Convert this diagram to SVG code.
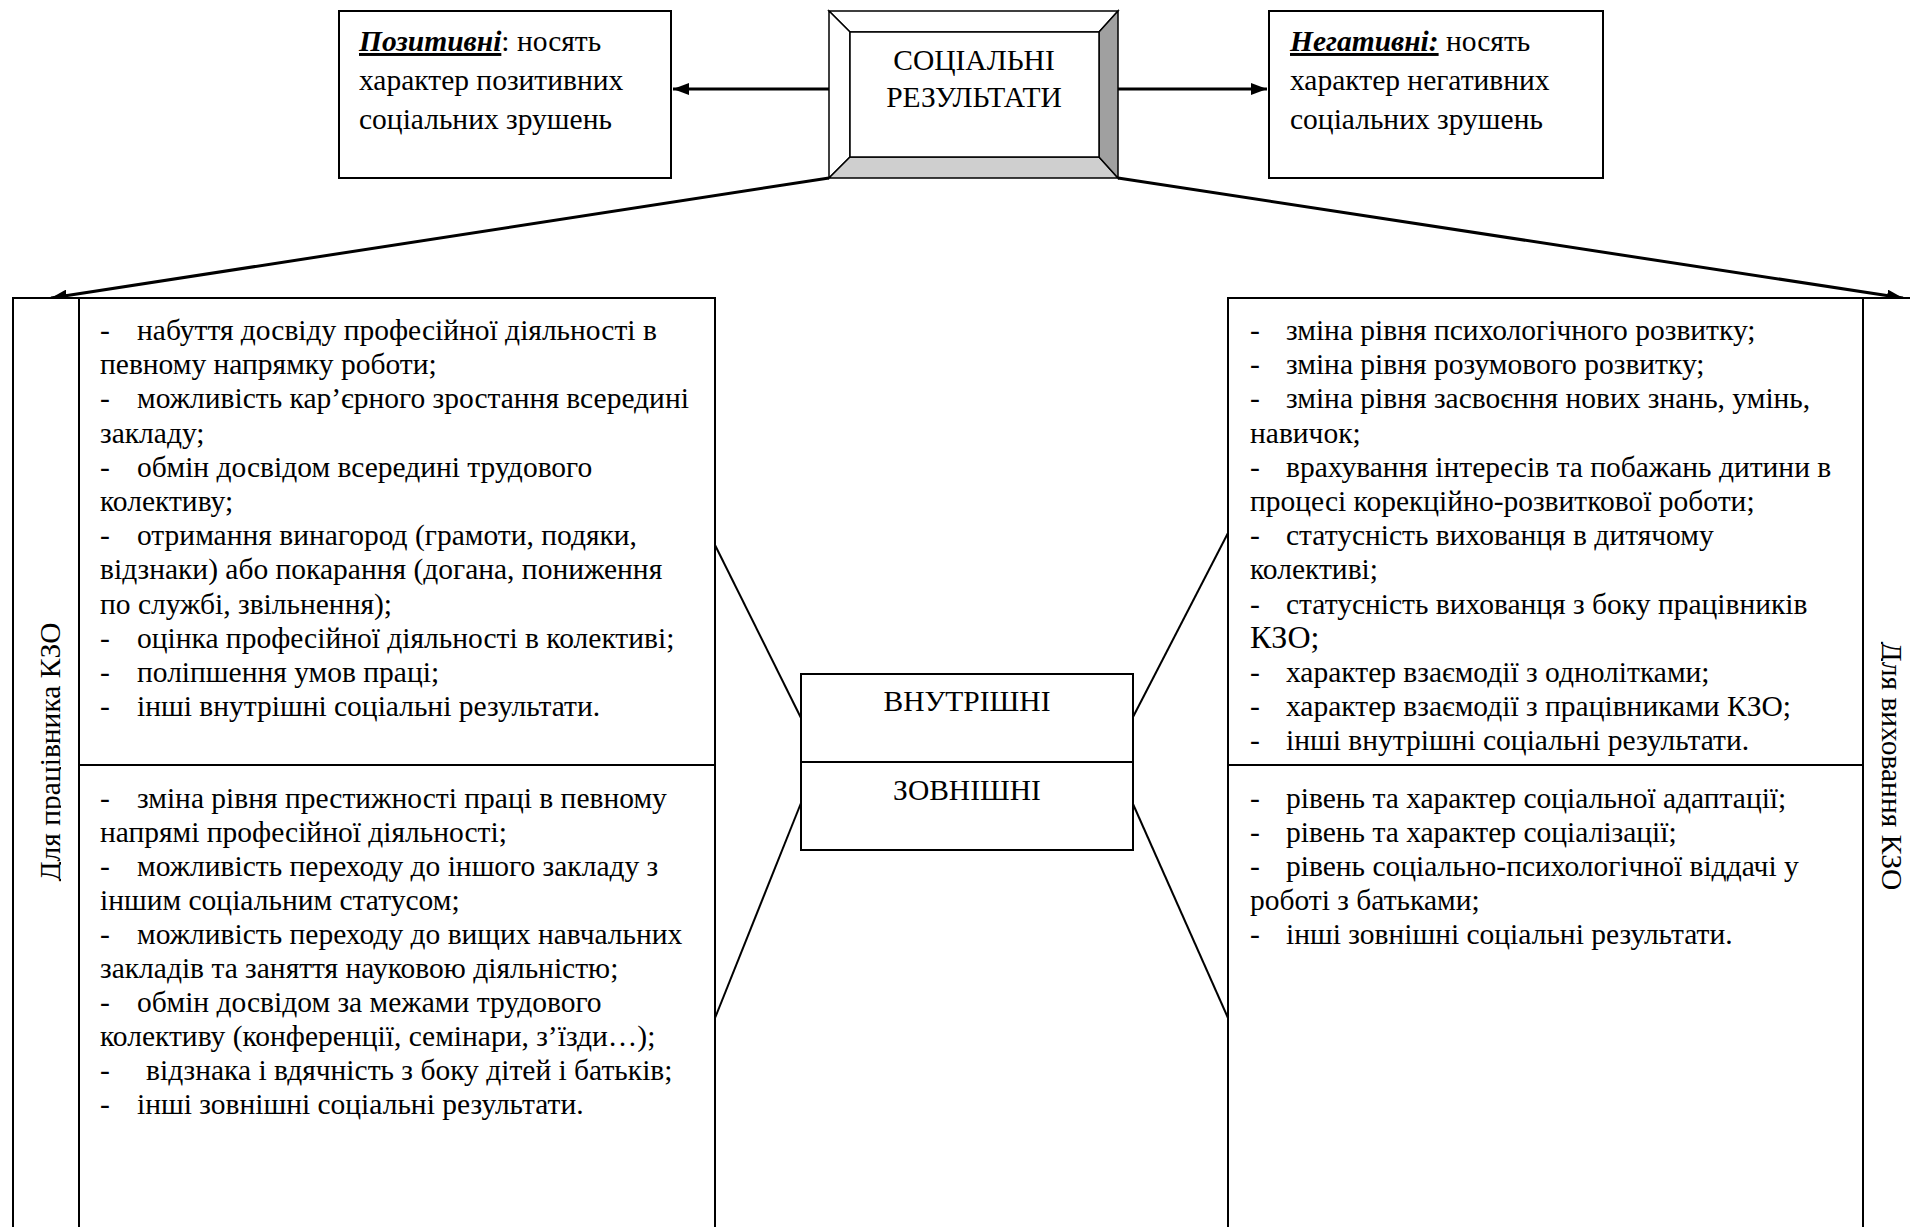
<svg xmlns="http://www.w3.org/2000/svg" width="1910" height="1227" viewBox="0 0 1910 1227">
<defs>
<style>
text{font-family:"Liberation Serif","Times New Roman",serif;font-size:29.5px;fill:#000}
.box{fill:#fff;stroke:#000;stroke-width:2}
.ln{fill:none;stroke:#000;stroke-width:2}
.arr{fill:none;stroke:#000;stroke-width:3}
.bev{stroke:#000;stroke-width:1.5;stroke-linejoin:miter}
.c{text-anchor:middle}
.hd{font-weight:bold;font-style:italic;text-decoration:underline}
</style>
<marker id="ah" viewBox="0 0 16 12" refX="16" refY="6" markerWidth="16" markerHeight="12" markerUnits="userSpaceOnUse" orient="auto">
<path d="M0,0 L16,6 L0,12 z" fill="#000"/>
</marker>
<clipPath id="clipL"><rect x="0" y="280" width="61" height="947"/></clipPath>
<clipPath id="clipR"><rect x="1881" y="280" width="40" height="947"/></clipPath>
</defs>
<rect width="1910" height="1227" fill="#fff"/>

<g id="connectors">
<line class="arr" x1="829" y1="89" x2="673" y2="89" marker-end="url(#ah)"/>
<line class="arr" x1="1118" y1="89" x2="1267" y2="89" marker-end="url(#ah)"/>
<line class="arr" x1="829" y1="178" x2="51" y2="298" marker-end="url(#ah)"/>
<line class="arr" x1="1118" y1="178" x2="1903" y2="298" marker-end="url(#ah)"/>
<line class="ln" x1="715" y1="545" x2="801" y2="718"/>
<line class="ln" x1="715" y1="1018" x2="801" y2="803"/>
<line class="ln" x1="1228" y1="533" x2="1133" y2="717"/>
<line class="ln" x1="1228" y1="1018" x2="1133" y2="804"/>
</g>

<g id="positive">
<rect class="box" x="339" y="11" width="332" height="167"/>
<text x="359" y="51"><tspan class="hd">Позитивні</tspan>: носять</text>
<text x="359" y="90">характер позитивних</text>
<text x="359" y="129">соціальних зрушень</text>
</g>

<g id="social-results">
<polygon class="bev" fill="#fff" points="829,11 1118,11 1099,32 850,32"/>
<polygon class="bev" fill="#fff" points="829,11 850,32 850,157 829,178"/>
<polygon class="bev" fill="#cfcfcf" points="829,178 850,157 1099,157 1118,178"/>
<polygon class="bev" fill="#a0a0a0" points="1118,11 1099,32 1099,157 1118,178"/>
<rect class="bev" fill="#fff" x="850" y="32" width="249" height="125"/>
<text class="c" x="974" y="70">СОЦІАЛЬНІ</text>
<text class="c" x="974" y="107">РЕЗУЛЬТАТИ</text>
</g>

<g id="negative">
<rect class="box" x="1269" y="11" width="334" height="167"/>
<text x="1290" y="51"><tspan class="hd">Негативні:</tspan> носять</text>
<text x="1290" y="90">характер негативних</text>
<text x="1290" y="129">соціальних зрушень</text>
</g>

<g id="staff">
<rect class="box" x="13" y="298" width="702" height="940"/>
<line class="ln" x1="79" y1="298" x2="79" y2="1240"/>
<line class="ln" x1="79" y1="765" x2="715" y2="765"/>
<g clip-path="url(#clipL)">
<text class="c" transform="translate(60,752) rotate(-90)">Для працівника КЗО</text>
</g>
<g id="staff-internal">
<text x="100" y="340">-</text><text x="137" y="340">набуття досвіду професійної діяльності в</text>
<text x="100" y="374">певному напрямку роботи;</text>
<text x="100" y="408">-</text><text x="137" y="408">можливість кар’єрного зростання всередині</text>
<text x="100" y="443">закладу;</text>
<text x="100" y="477">-</text><text x="137" y="477">обмін досвідом всередині трудового</text>
<text x="100" y="511">колективу;</text>
<text x="100" y="545">-</text><text x="137" y="545">отримання винагород (грамоти, подяки,</text>
<text x="100" y="579">відзнаки) або покарання (догана, пониження</text>
<text x="100" y="614">по службі, звільнення);</text>
<text x="100" y="648">-</text><text x="137" y="648">оцінка професійної діяльності в колективі;</text>
<text x="100" y="682">-</text><text x="137" y="682">поліпшення умов праці;</text>
<text x="100" y="716">-</text><text x="137" y="716">інші внутрішні соціальні результати.</text>
</g>
<g id="staff-external">
<text x="100" y="808">-</text><text x="137" y="808">зміна рівня престижності праці в певному</text>
<text x="100" y="842">напрямі професійної діяльності;</text>
<text x="100" y="876">-</text><text x="137" y="876">можливість переходу до іншого закладу з</text>
<text x="100" y="910">іншим соціальним статусом;</text>
<text x="100" y="944">-</text><text x="137" y="944">можливість переходу до вищих навчальних</text>
<text x="100" y="978">закладів та заняття науковою діяльністю;</text>
<text x="100" y="1012">-</text><text x="137" y="1012">обмін досвідом за межами трудового</text>
<text x="100" y="1046">колективу (конференції, семінари, з’їзди…);</text>
<text x="100" y="1080">-</text><text x="146" y="1080">відзнака і вдячність з боку дітей і батьків;</text>
<text x="100" y="1114">-</text><text x="137" y="1114">інші зовнішні соціальні результати.</text>
</g>
</g>

<g id="inner-outer">
<rect class="box" x="801" y="674" width="332" height="176"/>
<line class="ln" x1="801" y1="762" x2="1133" y2="762"/>
<text class="c" x="967" y="711">ВНУТРІШНІ</text>
<text class="c" x="967" y="800">ЗОВНІШНІ</text>
</g>

<g id="pupil">
<rect class="box" x="1228" y="298" width="700" height="940"/>
<line class="ln" x1="1863" y1="298" x2="1863" y2="1240"/>
<line class="ln" x1="1228" y1="765" x2="1863" y2="765"/>
<g clip-path="url(#clipR)">
<text class="c" transform="translate(1882,766) rotate(90)">Для виховання КЗО</text>
</g>
<g id="pupil-internal">
<text x="1250" y="340">-</text><text x="1286" y="340">зміна рівня психологічного розвитку;</text>
<text x="1250" y="374">-</text><text x="1286" y="374">зміна рівня розумового розвитку;</text>
<text x="1250" y="408">-</text><text x="1286" y="408">зміна рівня засвоєння нових знань, умінь,</text>
<text x="1250" y="443">навичок;</text>
<text x="1250" y="477">-</text><text x="1286" y="477">врахування інтересів та побажань дитини в</text>
<text x="1250" y="511">процесі корекційно-розвиткової роботи;</text>
<text x="1250" y="545">-</text><text x="1286" y="545">статусність вихованця в дитячому</text>
<text x="1250" y="579">колективі;</text>
<text x="1250" y="614">-</text><text x="1286" y="614">статусність вихованця з боку працівників</text>
<text x="1250" y="648" style="font-size:32px">КЗО;</text>
<text x="1250" y="682">-</text><text x="1286" y="682">характер взаємодії з однолітками;</text>
<text x="1250" y="716">-</text><text x="1286" y="716">характер взаємодії з працівниками КЗО;</text>
<text x="1250" y="750">-</text><text x="1286" y="750">інші внутрішні соціальні результати.</text>
</g>
<g id="pupil-external">
<text x="1250" y="808">-</text><text x="1286" y="808">рівень та характер соціальної адаптації;</text>
<text x="1250" y="842">-</text><text x="1286" y="842">рівень та характер соціалізації;</text>
<text x="1250" y="876">-</text><text x="1286" y="876">рівень соціально-психологічної віддачі у</text>
<text x="1250" y="910">роботі з батьками;</text>
<text x="1250" y="944">-</text><text x="1286" y="944">інші зовнішні соціальні результати.</text>
</g>
</g>
</svg>
